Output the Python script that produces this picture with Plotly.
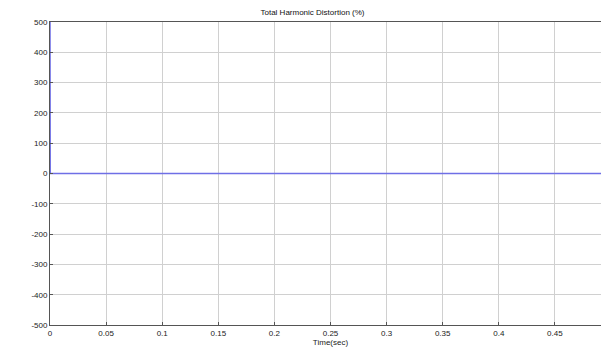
import plotly.graph_objects as go

time_sec = [0.0, 0.0002, 0.5]
thd_pct = [500, 0, 0]
x_ticks = [0, 0.05, 0.1, 0.15, 0.2, 0.25, 0.3, 0.35, 0.4, 0.45, 0.5]
x_tick_labels = ["0", "0.05", "0.1", "0.15", "0.2", "0.25", "0.3", "0.35", "0.4", "0.45", "0.5"]
y_ticks = [-500, -400, -300, -200, -100, 0, 100, 200, 300, 400, 500]
y_tick_labels = ["-500", "-400", "-300", "-200", "-100", "0", "100", "200", "300", "400", "500"]

fig = go.Figure()
fig.add_trace(go.Scatter(x=time_sec, y=thd_pct, mode="lines",
                         line=dict(color="#6f6fe6", width=1.5), showlegend=False))

fig.update_layout(
    width=609, height=352,
    margin=dict(l=42, r=6, t=14, b=35),
    paper_bgcolor="white", plot_bgcolor="white",
    font=dict(family="Liberation Sans, Arial, sans-serif", size=8, color="#222"),
    title=dict(text="Total Harmonic Distortion (%)", x=0.5, xanchor="center",
               y=0.995, yanchor="top", font=dict(size=8, color="#111")),
)
fig.update_xaxes(range=[0, 0.5], tickvals=x_ticks, ticktext=x_tick_labels,
                 showgrid=True, gridcolor="#d0d0d0", gridwidth=1,
                 showline=True, linecolor="#555", linewidth=1, mirror=True,
                 ticks="inside", ticklen=3, tickcolor="#555", zeroline=False,
                 title=dict(text="Time(sec)", standoff=0, font=dict(size=8)))
fig.update_yaxes(range=[-500, 500], tickvals=y_ticks, ticktext=y_tick_labels,
                 showgrid=True, gridcolor="#d0d0d0", gridwidth=1,
                 showline=True, linecolor="#555", linewidth=1, mirror=True,
                 ticks="inside", ticklen=3, tickcolor="#555", zeroline=False)

fig.write_html("out.html")
